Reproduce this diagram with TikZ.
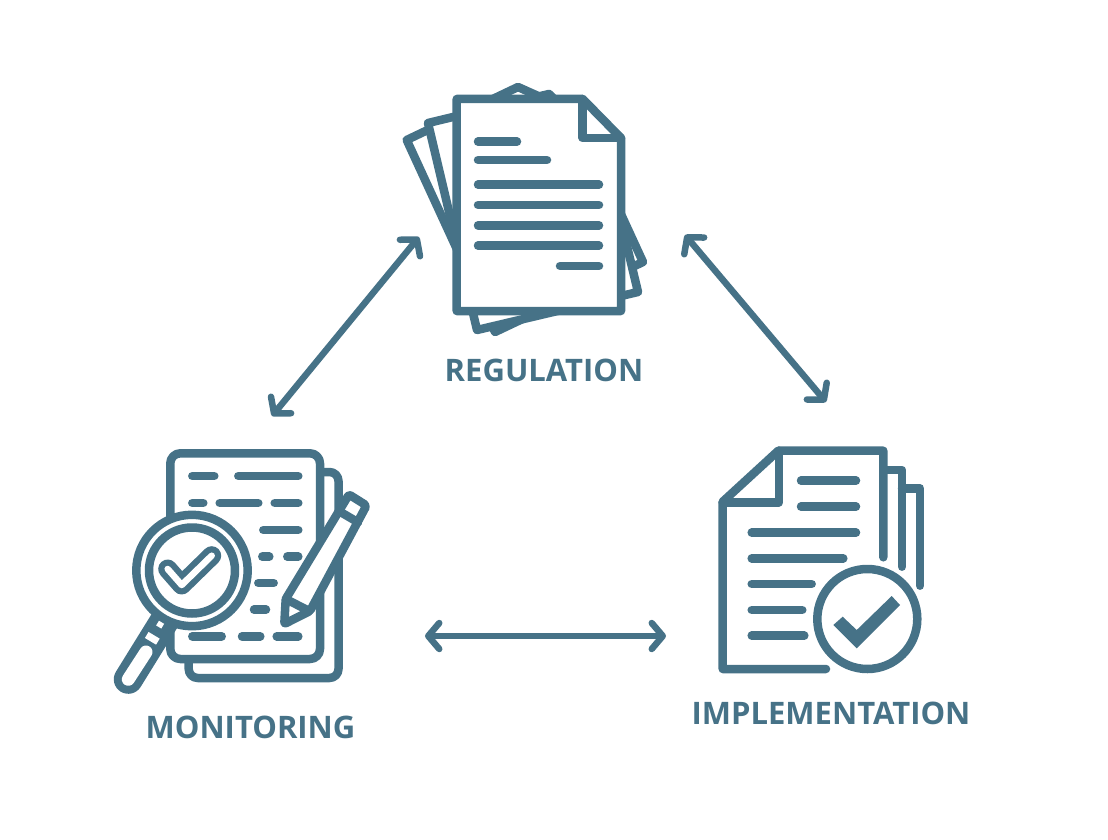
\documentclass[tikz,border=0pt]{standalone}
\usepackage{fontspec}
\setmainfont{Open Sans}
\usetikzlibrary{arrows.meta}
\definecolor{myslate}{RGB}{70,114,135}
\tikzset{
  outline/.style={draw=myslate, line width=8.5pt, line join=round, line cap=round},
  sheet/.style={outline, fill=white},
  textline/.style={draw=myslate, line width=8.5pt, line cap=round},
  twoway/.style={draw=myslate, line width=6.5pt, line cap=round,
    {Straight Barb[length=11pt, width=26pt, round]}-{Straight Barb[length=11pt, width=26pt, round]}},
  caption/.style={font=\fontsize{31}{31}\selectfont\bfseries, text=myslate, inner sep=0pt}
}
\begin{document}
\begin{tikzpicture}[x=1pt, y=-1pt]
  \useasboundingbox (0,0) rectangle (1108,840);

  % Regulation icon (Top)
  \draw[sheet] (406.7,140) -- (518,87) -- (574,112) -- (643,262) -- (495,332) -- cycle;
  \draw[sheet] (428,123) -- (549,94) -- (603,146) -- (638,292) -- (477,330) -- cycle;
  \draw[sheet] (456.7,99) -- (582.7,99) -- (621,138) -- (621,311) -- (456.7,311) -- cycle;
  \draw[outline] (582.7,99) -- (582.7,138) -- (621,138);
  \draw[textline] (478,141.7) -- (517,141.7);
  \draw[textline] (478,160) -- (547,160);
  \foreach \ypos in {184.7,205,225.3,245.7}
    \draw[textline] (478,\ypos) -- (599,\ypos);
  \draw[textline] (560,266) -- (599,266);

  % Monitoring icon (Bottom left)
  \draw[sheet, rounded corners=9pt] (320,472) -- (338.5,472) -- (338.5,678) -- (188.7,678) -- (188.7,650);
  \draw[sheet, rounded corners=10pt] (170.3,453.3) rectangle (320,659);
  \foreach \ypos/\xa/\xb in {476/192.3/214.3, 476/238.3/298.3,
      503/192.3/203.3, 503/219.7/258.3, 503/274.7/298.3,
      530/263.3/298.3, 556.7/262.3/269.3, 556.7/287.3/298.3,
      583/258.3/273.7, 609.7/254/266,
      636.3/192.3/221.7, 636.3/242/260.3, 636.3/276.7/298.3}
    \draw[textline] (\xa,\ypos) -- (\xb,\ypos);
  % pencil
  \draw[sheet, rounded corners=2pt] (349,494.5) -- (366.5,505.5) -- (310,611) -- (284.3,624) -- (285.7,599) -- cycle;
  \draw[outline] (341,512.3) -- (358,522.3);
  \draw[outline] (285.7,599) -- (309.3,611);
  % magnifier
  \draw[draw=myslate, line width=29pt, line cap=round] (128.3,679.3) -- (165,620);
  \draw[draw=white, line width=13pt, line cap=round] (128.3,679.3) -- (146,652);
  \draw[draw=white, line width=13pt] (150.5,641.3) -- (154.1,635.3);
  \draw[draw=white, line width=6pt] (158.7,627) -- (161.9,621.7);
  \draw[sheet] (192,570.5) circle[radius=55.7];
  \draw[outline] (192,570.5) circle[radius=43];
  \draw[draw=myslate, line width=19pt, line cap=round, line join=round] (167.7,569) -- (181.7,585) -- (211.7,555.7);
  \draw[draw=white, line width=6.5pt, line cap=round, line join=round] (167.7,569) -- (181.7,585) -- (211.7,555.7);

  % Implementation icon (Bottom right)
  \draw[outline] (883.3,470) -- (902,470) -- (902,566.7);
  \draw[outline] (902,488.3) -- (920,488.3) -- (920,585.7);
  \draw[outline] (826,669) -- (722.7,669) -- (722.7,501.7) -- (778.3,450.7) -- (883.3,450.7) -- (883.3,557.3);
  \draw[outline] (779,450.7) -- (779,502.3) -- (722.7,502.3);
  \draw[textline] (801,480.7) -- (856,480.7);
  \draw[textline] (801,506.7) -- (856,506.7);
  \foreach \ypos/\xb in {532.7/856, 558.3/843.3, 584/811.7, 610/802.3, 635.7/804.3}
    \draw[textline] (751.7,\ypos) -- (\xb,\ypos);
  \draw[sheet] (867.3,619) circle[radius=50];
  \fill[myslate] (833.3,625) -- (842.7,616.7) -- (856.7,630) -- (891.7,596) -- (900,605) -- (856.7,648.3) -- cycle;

  % Labels
  \node[caption] (regulation) at (544,370) {REGULATION};
  \node[caption] (monitoring) at (250.5,727) {MONITORING};
  \node[caption] (implementation) at (831,713) {IMPLEMENTATION};

  % Connections
  \coordinate (regleft) at (419,237);
  \coordinate (regright) at (685,235);
  \coordinate (monup) at (272,416);
  \coordinate (monright) at (425,636);
  \coordinate (impup) at (826,402);
  \coordinate (impleft) at (666,636);
  \draw[twoway] (monup) -- (regleft);
  \draw[twoway] (regright) -- (impup);
  \draw[twoway] (monright) -- (impleft);
\end{tikzpicture}
\end{document}
